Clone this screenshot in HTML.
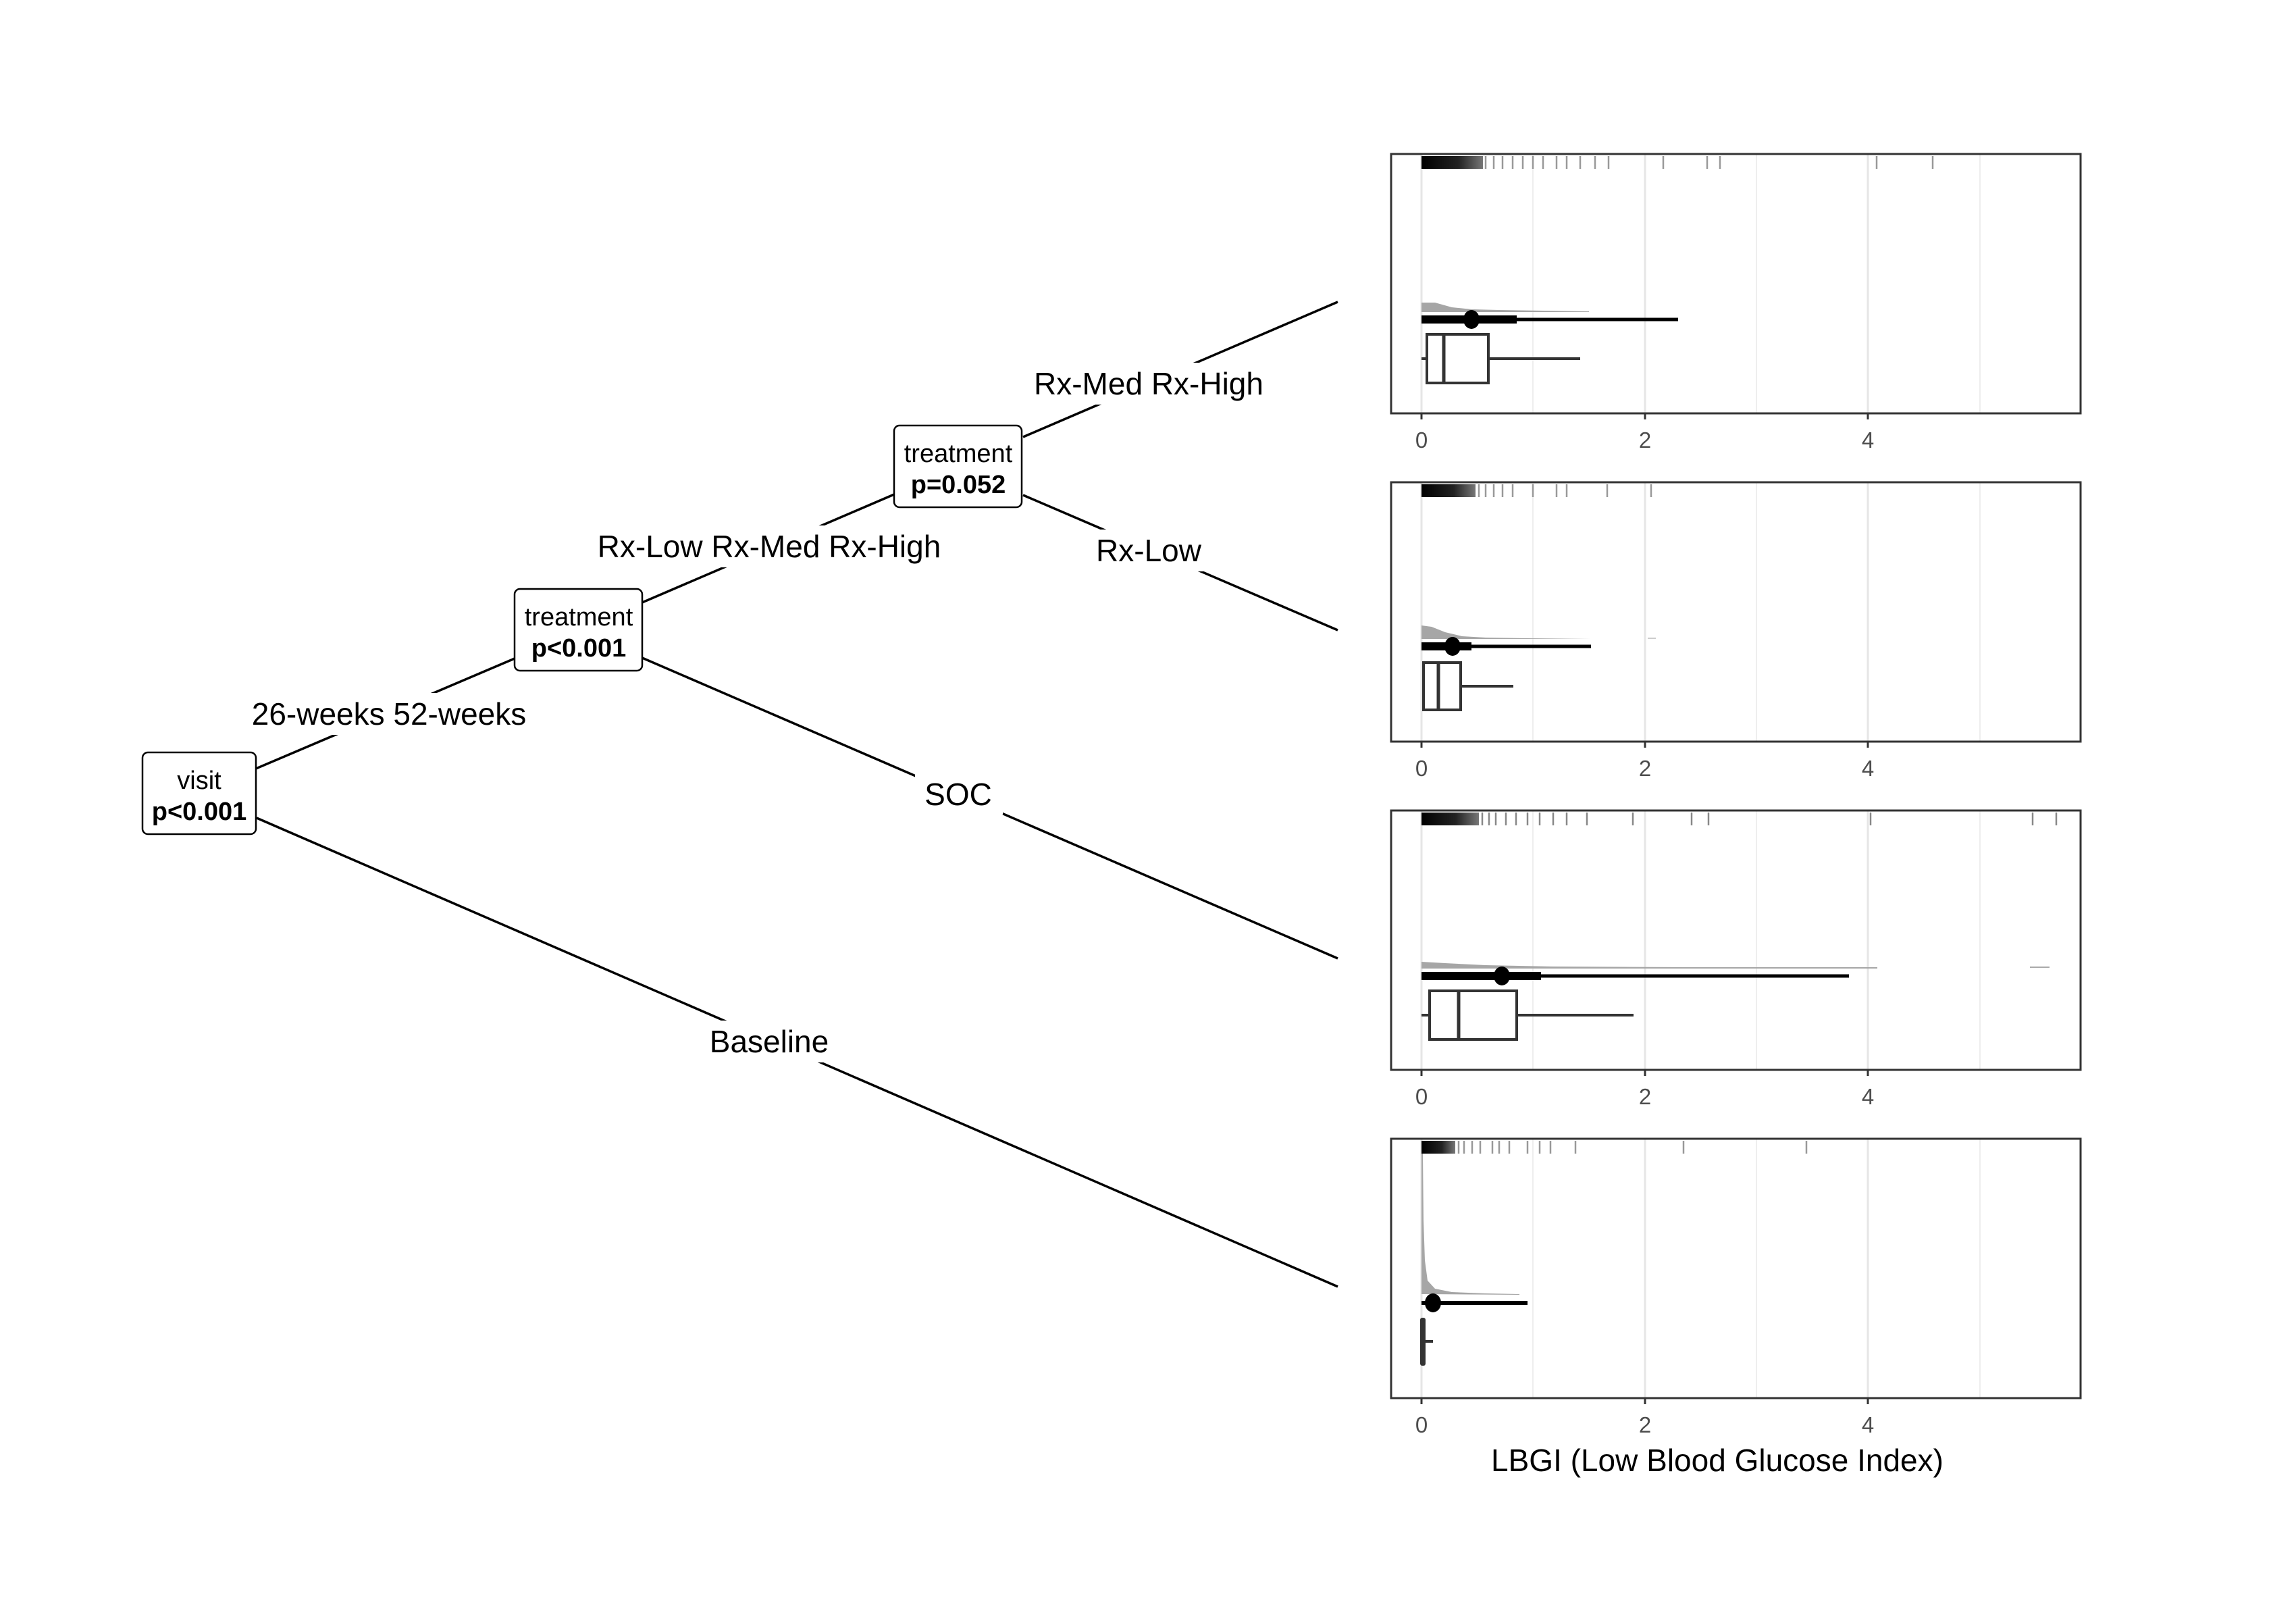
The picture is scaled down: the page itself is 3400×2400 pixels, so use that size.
<!DOCTYPE html>
<html><head><meta charset="utf-8"><style>
html,body{margin:0;padding:0;background:#fff;}
svg{display:block;}
text{font-family:"Liberation Sans",Arial,sans-serif;}
</style></head><body>
<svg width="3400" height="2400" viewBox="0 0 3400 2400" xmlns="http://www.w3.org/2000/svg">
<defs>
<linearGradient id="rug" x1="0" x2="1" y1="0" y2="0">
<stop offset="0" stop-color="#000"/><stop offset="0.6" stop-color="#222"/><stop offset="1" stop-color="#777"/>
</linearGradient>
<g id="grid">
<line x1="2105" x2="2105" y1="0" y2="384" stroke="#e6e6e6" stroke-width="3"/>
<line x1="2270" x2="2270" y1="0" y2="384" stroke="#eeeeee" stroke-width="2"/>
<line x1="2436" x2="2436" y1="0" y2="384" stroke="#e6e6e6" stroke-width="3"/>
<line x1="2601" x2="2601" y1="0" y2="384" stroke="#eeeeee" stroke-width="2"/>
<line x1="2766" x2="2766" y1="0" y2="384" stroke="#e6e6e6" stroke-width="3"/>
<line x1="2932" x2="2932" y1="0" y2="384" stroke="#eeeeee" stroke-width="2"/>
</g>
<g id="axis">
<rect x="2060" y="0" width="1021" height="384" fill="none" stroke="#333" stroke-width="3"/>
<g stroke="#333" stroke-width="3"><line x1="2105" x2="2105" y1="384" y2="393"/><line x1="2436" x2="2436" y1="384" y2="393"/><line x1="2766" x2="2766" y1="384" y2="393"/></g>
<g fill="#4d4d4d" font-size="33" text-anchor="middle"><text x="2105" y="435">0</text><text x="2436" y="435">2</text><text x="2766" y="435">4</text></g>
</g>
</defs>

<g stroke="#000" stroke-width="3.5" fill="none">
<line x1="379" y1="1138" x2="762" y2="975"/>
<line x1="380" y1="1211" x2="1981" y2="1905"/>
<line x1="951" y1="892" x2="1324" y2="732"/>
<line x1="951" y1="974" x2="1981" y2="1419"/>
<line x1="1515" y1="647" x2="1981" y2="447"/>
<line x1="1515" y1="733" x2="1981" y2="933"/>
</g>
<g font-size="46" text-anchor="middle" fill="#000">
<rect x="355" y="1026" width="440" height="62" fill="#fff"/>
<text x="576" y="1073">26-weeks 52-weeks</text>
<rect x="870" y="778" width="540" height="62" fill="#fff"/>
<text x="1139" y="825">Rx-Low Rx-Med Rx-High</text>
<rect x="1355" y="1144" width="130" height="62" fill="#fff"/>
<text x="1419" y="1192">SOC</text>
<rect x="1030" y="1511" width="220" height="62" fill="#fff"/>
<text x="1139" y="1558">Baseline</text>
<rect x="1510" y="537" width="385" height="62" fill="#fff"/>
<text x="1701" y="584">Rx-Med Rx-High</text>
<rect x="1610" y="784" width="185" height="62" fill="#fff"/>
<text x="1701" y="831">Rx-Low</text>
</g>
<g fill="#fff" stroke="#000" stroke-width="2.5">
<rect x="211" y="1114" width="168" height="121" rx="8"/>
<rect x="762" y="872" width="189" height="121" rx="8"/>
<rect x="1324" y="630" width="189" height="121" rx="8"/>
</g>
<g font-size="38" text-anchor="middle" fill="#000">
<text x="295" y="1168">visit</text><text x="295" y="1214" font-weight="bold">p&lt;0.001</text>
<text x="857" y="926">treatment</text><text x="857" y="972" font-weight="bold">p&lt;0.001</text>
<text x="1419" y="684">treatment</text><text x="1419" y="730" font-weight="bold">p=0.052</text>
</g>

<g transform="translate(0,228)">
<use href="#grid"/>
<rect x="2105" y="3" width="91" height="19" fill="url(#rug)"/>
<g stroke="#999" stroke-width="2.5"><line x1="2200" x2="2200" y1="3" y2="22"/><line x1="2212" x2="2212" y1="3" y2="22"/><line x1="2225" x2="2225" y1="3" y2="22"/><line x1="2240" x2="2240" y1="3" y2="22"/><line x1="2255" x2="2255" y1="3" y2="22"/><line x1="2270" x2="2270" y1="3" y2="22"/><line x1="2285" x2="2285" y1="3" y2="22"/><line x1="2305" x2="2305" y1="3" y2="22"/><line x1="2320" x2="2320" y1="3" y2="22"/><line x1="2340" x2="2340" y1="3" y2="22"/><line x1="2362" x2="2362" y1="3" y2="22"/><line x1="2382" x2="2382" y1="3" y2="22"/><line x1="2463" x2="2463" y1="3" y2="22"/><line x1="2528" x2="2528" y1="3" y2="22"/><line x1="2547" x2="2547" y1="3" y2="22"/><line x1="2779" x2="2779" y1="3" y2="22"/><line x1="2862" x2="2862" y1="3" y2="22"/></g>
<path d="M2105 234 L2105 220 L2125 220 L2150 227 L2180 230 L2220 231 L2290 232 L2353 233 L2353 234 Z" fill="#a6a6a6"/>
<line x1="2105" x2="2485" y1="245" y2="245" stroke="#000" stroke-width="5"/>
<line x1="2105" x2="2246" y1="245" y2="245" stroke="#000" stroke-width="12"/>
<ellipse cx="2179" cy="245" rx="12" ry="14" fill="#000"/>
<line x1="2105" x2="2113" y1="303" y2="303" stroke="#333" stroke-width="4"/>
<line x1="2204" x2="2340" y1="303" y2="303" stroke="#333" stroke-width="4"/>
<rect x="2113" y="267" width="91" height="72" fill="none" stroke="#333" stroke-width="4"/>
<line x1="2138" x2="2138" y1="267" y2="339" stroke="#333" stroke-width="5"/>
<use href="#axis"/>
</g>

<g transform="translate(0,714)">
<use href="#grid"/>
<rect x="2105" y="3" width="80" height="19" fill="url(#rug)"/>
<g stroke="#999" stroke-width="2.5"><line x1="2190" x2="2190" y1="3" y2="22"/><line x1="2200" x2="2200" y1="3" y2="22"/><line x1="2212" x2="2212" y1="3" y2="22"/><line x1="2225" x2="2225" y1="3" y2="22"/><line x1="2240" x2="2240" y1="3" y2="22"/><line x1="2270" x2="2270" y1="3" y2="22"/><line x1="2305" x2="2305" y1="3" y2="22"/><line x1="2320" x2="2320" y1="3" y2="22"/><line x1="2380" x2="2380" y1="3" y2="22"/><line x1="2445" x2="2445" y1="3" y2="22"/></g>
<path d="M2105 232 L2105 212 L2120 214 L2140 222 L2165 228 L2200 230 L2260 231 L2356 232 Z" fill="#a6a6a6"/>
<line x1="2440" x2="2452" y1="231" y2="231" stroke="#ccc" stroke-width="2"/>
<line x1="2105" x2="2356" y1="243" y2="243" stroke="#000" stroke-width="5"/>
<line x1="2105" x2="2179" y1="243" y2="243" stroke="#000" stroke-width="12"/>
<ellipse cx="2151" cy="243" rx="12" ry="14" fill="#000"/>
<line x1="2163" x2="2241" y1="302" y2="302" stroke="#333" stroke-width="4"/>
<rect x="2108" y="267" width="55" height="70" fill="none" stroke="#333" stroke-width="4"/>
<line x1="2130" x2="2130" y1="267" y2="337" stroke="#333" stroke-width="5"/>
<use href="#axis"/>
</g>

<g transform="translate(0,1200)">
<use href="#grid"/>
<rect x="2105" y="3" width="85" height="19" fill="url(#rug)"/>
<g stroke="#888" stroke-width="2.5"><line x1="2195" x2="2195" y1="3" y2="22"/><line x1="2205" x2="2205" y1="3" y2="22"/><line x1="2215" x2="2215" y1="3" y2="22"/><line x1="2230" x2="2230" y1="3" y2="22"/><line x1="2245" x2="2245" y1="3" y2="22"/><line x1="2262" x2="2262" y1="3" y2="22"/><line x1="2280" x2="2280" y1="3" y2="22"/><line x1="2300" x2="2300" y1="3" y2="22"/><line x1="2320" x2="2320" y1="3" y2="22"/><line x1="2350" x2="2350" y1="3" y2="22"/><line x1="2418" x2="2418" y1="3" y2="22"/><line x1="2505" x2="2505" y1="3" y2="22"/><line x1="2530" x2="2530" y1="3" y2="22"/><line x1="2770" x2="2770" y1="3" y2="22"/><line x1="3010" x2="3010" y1="3" y2="22"/><line x1="3045" x2="3045" y1="3" y2="22"/></g>
<path d="M2105 234 L2105 224 L2140 226 L2200 229 L2300 231 L2500 232 L2780 232 L2780 234 Z" fill="#a6a6a6"/>
<line x1="3006" x2="3035" y1="232" y2="232" stroke="#aaa" stroke-width="2"/>
<line x1="2105" x2="2738" y1="245" y2="245" stroke="#000" stroke-width="5"/>
<line x1="2105" x2="2282" y1="245" y2="245" stroke="#000" stroke-width="12"/>
<ellipse cx="2224" cy="245" rx="12" ry="14" fill="#000"/>
<line x1="2105" x2="2117" y1="303" y2="303" stroke="#333" stroke-width="4"/>
<line x1="2246" x2="2419" y1="303" y2="303" stroke="#333" stroke-width="4"/>
<rect x="2117" y="267" width="129" height="72" fill="none" stroke="#333" stroke-width="4"/>
<line x1="2160" x2="2160" y1="267" y2="339" stroke="#333" stroke-width="5"/>
<use href="#axis"/>
</g>

<g transform="translate(0,1686)">
<use href="#grid"/>
<rect x="2105" y="3" width="50" height="19" fill="url(#rug)"/>
<g stroke="#999" stroke-width="2.5"><line x1="2160" x2="2160" y1="3" y2="22"/><line x1="2168" x2="2168" y1="3" y2="22"/><line x1="2180" x2="2180" y1="3" y2="22"/><line x1="2192" x2="2192" y1="3" y2="22"/><line x1="2210" x2="2210" y1="3" y2="22"/><line x1="2220" x2="2220" y1="3" y2="22"/><line x1="2235" x2="2235" y1="3" y2="22"/><line x1="2262" x2="2262" y1="3" y2="22"/><line x1="2280" x2="2280" y1="3" y2="22"/><line x1="2296" x2="2296" y1="3" y2="22"/><line x1="2333" x2="2333" y1="3" y2="22"/><line x1="2493" x2="2493" y1="3" y2="22"/><line x1="2675" x2="2675" y1="3" y2="22"/></g>
<path d="M2105 230 L2105 22 L2107 22 L2108 120 L2110 180 L2114 210 L2125 222 L2150 227 L2200 229 L2250 230 L2250 231 Z" fill="#a6a6a6"/>
<line x1="2105" x2="2262" y1="243" y2="243" stroke="#000" stroke-width="6"/>
<ellipse cx="2122" cy="243" rx="12" ry="14" fill="#000"/>
<rect x="2103" y="265" width="8" height="71" rx="3" fill="#333"/>
<line x1="2108" x2="2122" y1="300" y2="300" stroke="#333" stroke-width="4"/>
<use href="#axis"/>
</g>

<text x="2543" y="2178" font-size="46" text-anchor="middle" fill="#000">LBGI (Low Blood Glucose Index)</text>
</svg>
</body></html>
